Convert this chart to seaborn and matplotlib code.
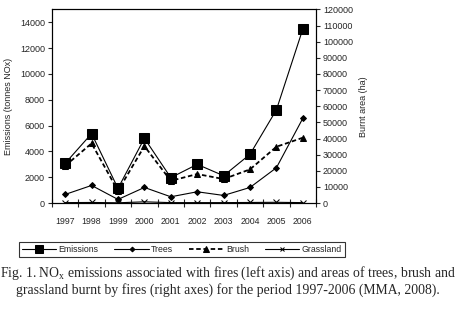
import numpy as np
import pandas as pd
import matplotlib
matplotlib.use("Agg")
import matplotlib.pyplot as plt
import seaborn as sns

sns.set_style("ticks")
plt.rcParams['font.family'] = ['Liberation Sans', 'DejaVu Sans']
plt.rcParams['mathtext.fontset'] = 'custom'
plt.rcParams['mathtext.rm'] = 'Liberation Serif'

# data
years = ['1997', '1998', '1999', '2000', '2001', '2002', '2003', '2004', '2005', '2006']
emissions = [3080, 5380, 1140, 5020, 1970, 3000, 2120, 3780, 7220, 13480]   # tonnes NOx, left axis
trees = [5370, 10950, 2270, 9700, 3920, 7020, 4750, 9700, 21900, 52500]    # ha, right axis
brush = [23100, 37000, 7600, 35300, 13800, 18000, 14900, 20900, 34900, 40500]
grassland = [300, 400, 200, 800, 300, 300, 300, 400, 500, 300]

df = pd.DataFrame({'pos': np.arange(len(years)), 'year': years,
                   'Emissions': emissions, 'Trees': trees,
                   'Brush': brush, 'Grassland': grassland})

fig = plt.figure(figsize=(4.6, 3.12), dpi=100)
ax = fig.add_axes([0.113, 0.349, 0.574, 0.621])
ax2 = ax.twinx()

sns.lineplot(data=df, x='pos', y='Emissions', ax=ax, color='black', lw=0.8,
             marker='s', markersize=7, markeredgecolor='black', label='Emissions', legend=False)
sns.lineplot(data=df, x='pos', y='Trees', ax=ax2, color='black', lw=0.8,
             marker='D', markersize=3, markeredgecolor='black', label='Trees', legend=False)
sns.lineplot(data=df, x='pos', y='Brush', ax=ax2, color='black', lw=1.3, linestyle=(0, (2.5, 1.5)),
             marker='^', markersize=5, markeredgecolor='black', label='Brush', legend=False)
sns.lineplot(data=df, x='pos', y='Grassland', ax=ax2, color='black', lw=0.8,
             marker='x', markersize=4, markeredgecolor='black', label='Grassland', legend=False)

ax.set_xlim(-0.5, 9.5)
ax.set_ylim(0, 15000)
ax2.set_ylim(0, 120000)
ax.set_yticks(np.arange(0, 14001, 2000))
ax2.set_yticks(np.arange(0, 120001, 10000))

# category ticks between years, labels centred
ax.set_xticks(np.arange(-0.5, 10, 1))
ax.set_xticklabels([])
ax.set_xticks(np.arange(len(years)), minor=True)
ax.set_xticklabels(years, minor=True)
ax.tick_params(axis='x', which='major', direction='inout', length=6, width=0.8)
ax.tick_params(axis='x', which='minor', length=0, pad=10, labelsize=6.3)
ax.tick_params(axis='y', length=3, width=0.8, labelsize=6.5, pad=2)
ax2.tick_params(axis='y', length=3, width=0.8, labelsize=6.5, pad=2)

ax.set_xlabel('')
ax.set_ylabel('Emissions (tonnes NOx)', fontsize=6.5, labelpad=5)
ax2.set_ylabel('Burnt area (ha)', fontsize=6.5, rotation=90, labelpad=4)

for a in (ax, ax2):
    for s in a.spines.values():
        s.set_linewidth(0.8)
        s.set_color('black')

h1, l1 = ax.get_legend_handles_labels()
h2, l2 = ax2.get_legend_handles_labels()
leg = fig.legend(h1 + h2, l1 + l2, loc='center', bbox_to_anchor=(0.395, 0.199), ncol=4,
                 fontsize=6.3, frameon=True, fancybox=False, handlelength=3.9, markerscale=0.8,
                 columnspacing=1.8, handletextpad=0.3, borderpad=0.35)
leg.get_frame().set_edgecolor('black')
leg.get_frame().set_linewidth(0.8)

fig.text(0.495, 0.125, 'Fig. 1. NO$_\\mathrm{x}$ emissions associated with fires (left axis) and areas of trees, brush and',
         ha='center', va='center', fontsize=9.9, family='Liberation Serif')
fig.text(0.495, 0.07, 'grassland burnt by fires (right axes) for the period 1997-2006 (MMA, 2008).',
         ha='center', va='center', fontsize=9.9, family='Liberation Serif')

fig.savefig('out.png', dpi=100)
